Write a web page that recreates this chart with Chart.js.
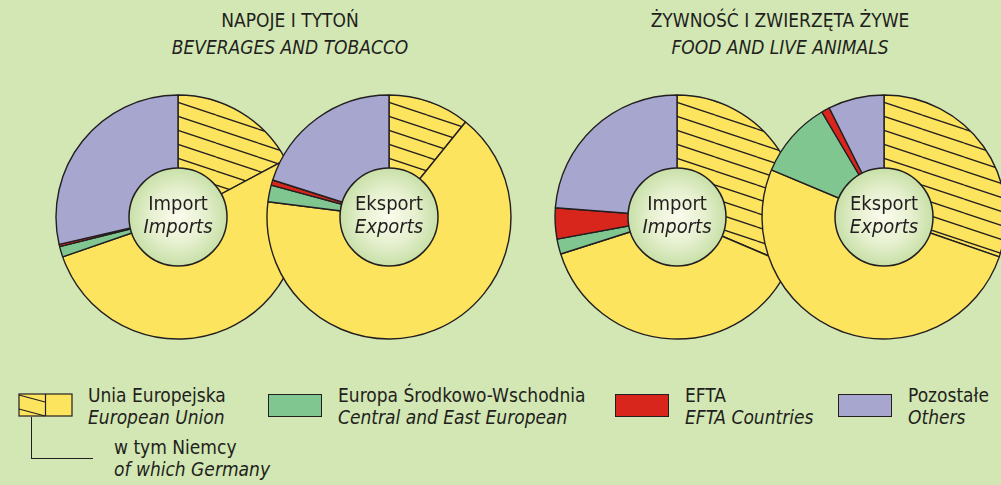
<!DOCTYPE html>
<html>
<head>
<meta charset="utf-8">
<script src="https://cdn.jsdelivr.net/npm/chart.js@4/dist/chart.umd.min.js"></script>
<style>
  body {
    margin: 0;
    width: 1001px;
    height: 485px;
    overflow: hidden;
    position: relative;
    background: #d2e7b3;
    color: #231f20;
    font-family: "Liberation Sans Narrow", "Arial Narrow", "DejaVu Sans Condensed", sans-serif;
  }
  canvas.pie { position: absolute; }
  .title {
    position: absolute;
    top: 7px;
    width: 400px;
    text-align: center;
    font-size: 19px;
    line-height: 27px;
  }
  .it { font-style: italic; }
  .txt {
    position: absolute;
    font-size: 19px;
    line-height: 22px;
    white-space: nowrap;
  }
  .sw {
    position: absolute;
    top: 394px;
    width: 52px;
    height: 21px;
    border: 1px solid #231f20;
  }
  .conn { position: absolute; background: #231f20; }
</style>
</head>
<body>

<div class="title" style="left:90px">NAPOJE I TYTOŃ<br><span class="it">BEVERAGES AND TOBACCO</span></div>
<div class="title" style="left:580px">ŻYWNOŚĆ I ZWIERZĘTA ŻYWE<br><span class="it">FOOD AND LIVE ANIMALS</span></div>

<canvas class="pie" id="bevImport" width="260" height="260" style="left:48px;top:87px"></canvas>
<canvas class="pie" id="bevExport" width="260" height="260" style="left:259px;top:87px"></canvas>
<canvas class="pie" id="foodImport" width="260" height="260" style="left:547px;top:87px"></canvas>
<canvas class="pie" id="foodExport" width="260" height="260" style="left:754px;top:87px"></canvas>

<!-- legend -->
<svg style="position:absolute;left:18px;top:393px" width="56" height="25">
  <rect x="1" y="1" width="53" height="22" fill="#fde45f" stroke="#231f20" stroke-width="1.2"/>
  <line x1="27.5" y1="1" x2="27.5" y2="23" stroke="#231f20" stroke-width="1.2"/>
  <line x1="1" y1="2" x2="27" y2="9" stroke="#231f20" stroke-width="1.2"/>
  <line x1="1" y1="16" x2="27" y2="23" stroke="#231f20" stroke-width="1.2"/>
</svg>
<div class="conn" style="left:31px;top:417px;width:1px;height:42px"></div>
<div class="conn" style="left:31px;top:458px;width:62px;height:1px"></div>
<div class="txt" style="left:88px;top:384px">Unia Europejska<br><span class="it">European Union</span></div>
<div class="txt" style="left:114px;top:436px">w tym Niemcy<br><span class="it">of which Germany</span></div>

<div class="sw" style="left:268px;background:#7fc691"></div>
<div class="txt" style="left:338px;top:384px">Europa Środkowo-Wschodnia<br><span class="it">Central and East European</span></div>

<div class="sw" style="left:615px;background:#d8261d"></div>
<div class="txt" style="left:685px;top:384px">EFTA<br><span class="it">EFTA Countries</span></div>

<div class="sw" style="left:838px;background:#a6a6cf"></div>
<div class="txt" style="left:908px;top:384px">Pozostałe<br><span class="it">Others</span></div>

<script>
// shares in %: Germany, rest of EU, Central & East Europe, EFTA, others
var regions = ['Niemcy', 'Unia Europejska', 'Europa Środkowo-Wschodnia', 'EFTA', 'Pozostałe'];
var beveragesImport = [17.2, 52.5, 1.4, 0.3, 28.6];
var beveragesExport = [10.8, 66.2, 2.2, 0.7, 20.1];
var foodImport = [31.4, 38.7, 2.0, 4.1, 23.8];
var foodExport = [30.3, 51.0, 10.2, 1.1, 7.4];
var importLabel = ['Import', 'Imports'];
var exportLabel = ['Eksport', 'Exports'];

var FONT = '"Liberation Sans Narrow", "Arial Narrow", "DejaVu Sans Condensed", sans-serif';
var lineColor = '#231f20';
var yellow = '#fde45f';
var green = '#7fc691';
var red = '#d8261d';
var lavender = '#a6a6cf';

// striped fill for the Germany part of the EU slice
function hatchPattern() {
  var tile = document.createElement('canvas');
  tile.width = 42;
  tile.height = 14;
  var t = tile.getContext('2d');
  t.fillStyle = yellow;
  t.fillRect(0, 0, 42, 14);
  t.strokeStyle = lineColor;
  t.lineWidth = 1.3;
  [-14, 0, 14].forEach(function(dy) {
    t.beginPath();
    t.moveTo(0, dy);
    t.lineTo(42, dy + 14);
    t.stroke();
  });
  return t.createPattern(tile, 'repeat');
}

// light disc in the middle with the import / export caption
var centerDisc = {
  id: 'centerDisc',
  afterDatasetsDraw: function(chart, args, opts) {
    var arc = chart.getDatasetMeta(0).data[0];
    var x = arc.x, y = arc.y, r = 49;
    var c = chart.ctx;
    c.save();
    var g = c.createRadialGradient(x, y, 0, x, y, r);
    g.addColorStop(0, '#fbfcee');
    g.addColorStop(0.55, '#e6f0cf');
    g.addColorStop(1, '#c8e0a8');
    c.beginPath();
    c.arc(x, y, r, 0, Math.PI * 2);
    c.fillStyle = g;
    c.fill();
    c.lineWidth = 1.5;
    c.strokeStyle = lineColor;
    c.stroke();
    c.fillStyle = lineColor;
    c.textAlign = 'center';
    c.textBaseline = 'middle';
    c.font = '20px ' + FONT;
    c.fillText(opts.lines[0], x, y - 12);
    c.font = 'italic 20px ' + FONT;
    c.fillText(opts.lines[1], x, y + 11);
    c.restore();
  }
};

function makePie(id, values, lines) {
  var ctx = document.getElementById(id).getContext('2d');
  return new Chart(ctx, {
    type: 'pie',
    data: {
      labels: regions,
      datasets: [{
        data: values,
        backgroundColor: [hatchPattern(), yellow, green, red, lavender],
        borderColor: lineColor,
        borderWidth: 1.4
      }]
    },
    options: {
      responsive: false,
      animation: false,
      events: [],
      radius: 122,
      layout: { padding: 0 },
      plugins: {
        legend: { display: false },
        tooltip: { enabled: false },
        centerDisc: { lines: lines }
      }
    },
    plugins: [centerDisc]
  });
}

makePie('bevImport', beveragesImport, importLabel);
makePie('bevExport', beveragesExport, exportLabel);
makePie('foodImport', foodImport, importLabel);
makePie('foodExport', foodExport, exportLabel);
</script>
</body>
</html>
